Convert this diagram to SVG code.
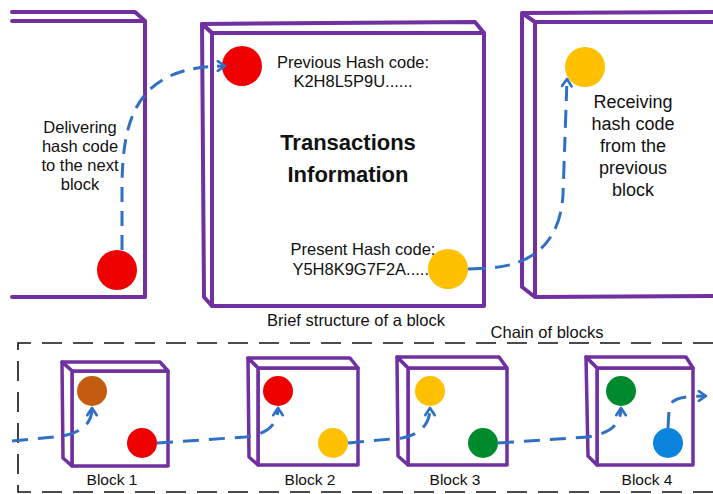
<svg xmlns="http://www.w3.org/2000/svg" width="713" height="494" viewBox="0 0 713 494">
<style>
.box{fill:#fff;stroke:#7030A0;stroke-width:4;stroke-linejoin:round;stroke-linecap:round}
.sbox{fill:#fff;stroke:#7030A0;stroke-width:3.5;stroke-linejoin:round;stroke-linecap:round}
.t{font-family:"Liberation Sans",Arial,sans-serif;font-size:16.5px;fill:#111;text-anchor:middle}
.tb{font-family:"Liberation Sans",Arial,sans-serif;font-size:22px;font-weight:bold;fill:#111;text-anchor:middle}
.c{fill:none;stroke:#2F70C6;stroke-width:3;stroke-dasharray:15 9}
.cs{fill:none;stroke:#2F70C6;stroke-width:3;stroke-dasharray:16 10}
.frame{fill:none;stroke:#111;stroke-width:1.6;stroke-dasharray:20 11}
</style>
<defs>
<marker id="ah" viewBox="0 0 10 10" refX="8" refY="5" markerWidth="12" markerHeight="12" markerUnits="userSpaceOnUse" orient="auto">
<path d="M2,1 L8,5 L2,9" fill="none" stroke="#2F70C6" stroke-width="2.2" stroke-dasharray="none" stroke-linecap="round" stroke-linejoin="round"/>
</marker>
</defs>
<rect width="713" height="494" fill="#fff"/>

<g id="left-block">
<path class="box" d="M12,12 L135,12 L145,21 M12,21 L145,21 L145,297 L12,297" fill="none"/>
<circle cx="117" cy="270" r="20" fill="#EE0000"/>
<text class="t"><tspan x="80" y="133">Delivering</tspan><tspan x="80" y="152">hash code</tspan><tspan x="80" y="171">to the next</tspan><tspan x="80" y="190">block</tspan></text>
</g>

<g id="center-block">
<rect class="box" x="212" y="33" width="272" height="273"/>
<polygon class="box" points="202,24 475,22 484,33 212,33"/>
<polygon class="box" points="202,24 212,33 212,306 204,297"/>
<circle cx="242" cy="66" r="20" fill="#EE0000"/>
<text class="t" x="353" y="68">Previous Hash code:</text>
<text class="t" x="353" y="87">K2H8L5P9U......</text>
<text class="tb" x="348" y="150">Transactions</text>
<text class="tb" x="348" y="182">Information</text>
<text class="t" x="363" y="255">Present Hash code:</text>
<text class="t" x="363" y="275">Y5H8K9G7F2A......</text>
<circle cx="448" cy="269" r="20" fill="#FFC000"/>
</g>

<g id="right-block">
<path class="box" d="M713,12 L522,13 L535,22 L713,22 M522,13 L522,287 L535,297 L713,296 M535,22 L535,297" fill="none"/>
<circle cx="585" cy="67" r="20" fill="#FFC000"/>
<text class="t" style="font-size:18px"><tspan x="633" y="108">Receiving</tspan><tspan x="633" y="130">hash code</tspan><tspan x="633" y="152">from the</tspan><tspan x="633" y="174">previous</tspan><tspan x="633" y="196">block</tspan></text>
</g>

<text class="t" x="356" y="326">Brief structure of a block</text>

<g id="chain-frame">
<path class="frame" d="M713,343 L18,343 L18,492 L713,492"/>
<text class="t" x="547" y="338">Chain of blocks</text>
</g>

<g id="block1">
<rect class="sbox" x="72" y="371" width="96" height="95"/>
<polygon class="sbox" points="62,362 160,362 168,371 72,371"/>
<polygon class="sbox" points="62,362 72,371 72,466 63,458"/>
<circle cx="92" cy="391" r="15" fill="#C55A11"/>
<circle cx="142" cy="443" r="15" fill="#EE0000"/>
<text class="t" style="font-size:15.5px" x="112" y="485">Block 1</text>
</g>

<g id="block2">
<rect class="sbox" x="258" y="368" width="100" height="97"/>
<polygon class="sbox" points="248,358 350,358 358,368 258,368"/>
<polygon class="sbox" points="248,358 258,368 258,465 249,457"/>
<circle cx="278" cy="391" r="15" fill="#EE0000"/>
<circle cx="333" cy="443" r="15" fill="#FFC000"/>
<text class="t" style="font-size:15.5px" x="310" y="485">Block 2</text>
</g>

<g id="block3">
<rect class="sbox" x="408" y="368" width="99" height="97"/>
<polygon class="sbox" points="397,357 499,357 507,368 408,368"/>
<polygon class="sbox" points="397,357 408,368 408,465 398,456"/>
<circle cx="430" cy="391" r="15" fill="#FFC000"/>
<circle cx="483" cy="443" r="15" fill="#008A2E"/>
<text class="t" style="font-size:15.5px" x="455" y="485">Block 3</text>
</g>

<g id="block4">
<rect class="sbox" x="597" y="368" width="96" height="97"/>
<polygon class="sbox" points="586,357 686,357 693,368 597,368"/>
<polygon class="sbox" points="586,357 597,368 597,465 588,456"/>
<circle cx="621" cy="391" r="15" fill="#008A2E"/>
<circle cx="668" cy="443" r="15" fill="#0A84DC"/>
<text class="t" style="font-size:15.5px" x="647" y="485">Block 4</text>
</g>

<g id="connectors">
<path class="c" d="M122,250 L122,190 C122,120 135,66 225,66" marker-end="url(#ah)"/>
<path class="c" style="stroke-dasharray:18 9 15 9" d="M468,269 L490,268 C530,265 560,245 563,195 L567,79" marker-end="url(#ah)"/>
<path class="cs" d="M12,441 L55,437 C75,435 92,428 92,408" marker-end="url(#ah)"/>
<path class="cs" d="M157,443 L245,437 C262,435 278,428 278,408" marker-end="url(#ah)"/>
<path class="cs" d="M348,443 L402,438 C418,435 430,426 430,408" marker-end="url(#ah)"/>
<path class="cs" d="M498,443 L588,437 C605,434 621,428 621,408" marker-end="url(#ah)"/>
<path class="cs" d="M668,428 L669,410 C670,400 676,396 706,396" marker-end="url(#ah)"/>
</g>
</svg>
